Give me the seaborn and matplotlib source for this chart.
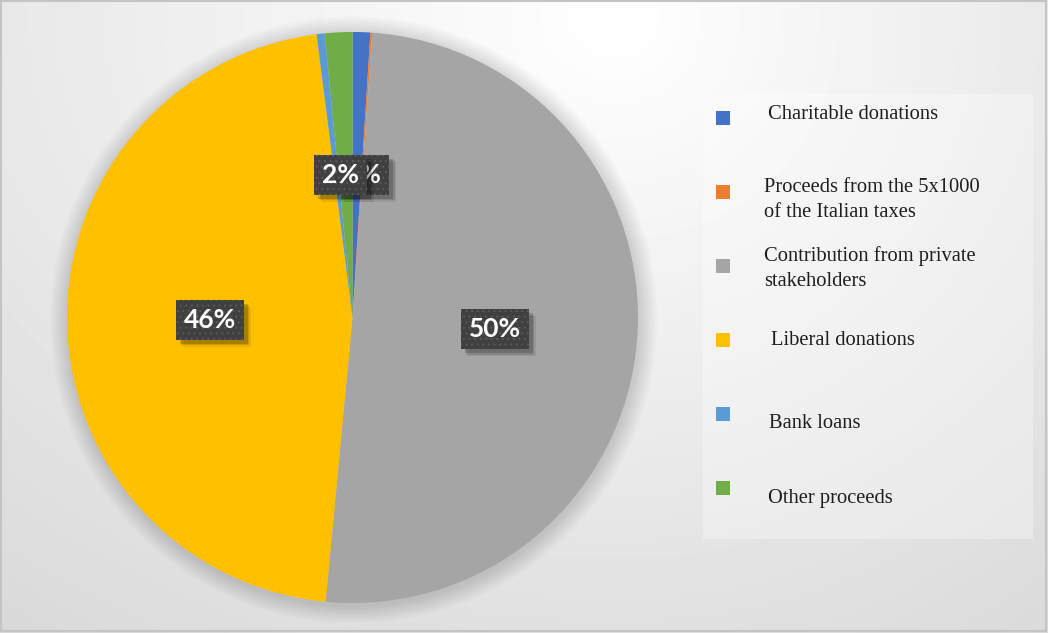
import numpy as np
import matplotlib
matplotlib.use("Agg")
import matplotlib.pyplot as plt
import matplotlib.patheffects as pe
import seaborn as sns
from matplotlib import transforms
from matplotlib.patches import Rectangle, Circle

# ---------------- data ----------------
categories = [
    "Charitable donations",
    "Proceeds from the 5x1000\nof the Italian taxes",
    "Contribution from private\nstakeholders",
    "Liberal donations",
    "Bank loans",
    "Other proceeds",
]
shares = [1.0, 0.1, 50.4, 46.49, 0.45, 1.56]
colors = ["#4472C4", "#ED7D31", "#A5A5A5", "#FFC000", "#5B9BD5", "#70AD47"]
show_label = [True, False, True, True, False, True]

# ---------------- layout ----------------
W, H = 1048, 633
CX, CY, R = 352.5, 317.5, 285.5
legend_box = (703, 94, 330, 445)
marker_x, marker_y0, marker_step, marker_size = 716, 117.5, 74, 14
text_x = [768, 764, 764, 771, 769, 768]
# baseline of the LAST line of each legend text
text_baseline = [119, 217, 286, 345, 428, 503]
# small label nudges (pixels), as in the original
label_nudge = {0: (6, 0), 5: (-5, 0)}

sns.set_theme(style="white")
plt.rcParams["hatch.color"] = "#5e5e5e"
plt.rcParams["hatch.linewidth"] = 0.6
palette = sns.color_palette(colors)

fig = plt.figure(figsize=(W / 100, H / 100), dpi=100)

# background gradient (pixel coordinates)
bg = fig.add_axes([0, 0, 1, 1])
bg.set_axis_off()
yy, xx = np.mgrid[0:H, 0:W]
dx = np.where(xx > 620, (xx - 620) * 0.05, (620 - xx) * 0.037)
dy = np.clip(yy - 20, 0, None) * 0.05
dark = np.sqrt(dx ** 2 + dy ** 2)
img = (255 - dark) / 255.0
bg.imshow(img, cmap="gray", vmin=0, vmax=1, extent=[0, W, H, 0], aspect="auto",
          interpolation="bilinear")
bg.set_xlim(0, W)
bg.set_ylim(H, 0)
bg.add_patch(Rectangle((1, 1), W - 3, H - 3, fill=False, ec="#c4c4c4", lw=1.5))

# legend
lx, ly, lw_, lh = legend_box
bg.add_patch(Rectangle((lx, ly), lw_, lh, fc="white", alpha=0.3, ec="none"))
for i, (lab, col) in enumerate(zip(categories, palette)):
    cy = marker_y0 + i * marker_step
    bg.add_patch(Rectangle((marker_x, cy - marker_size / 2), marker_size, marker_size,
                           fc=col, ec="none"))
    bg.text(text_x[i], text_baseline[i], lab, ha="left", va="baseline",
            fontsize=14.8, family=["Liberation Serif", "DejaVu Serif"],
            color="#1e1e1e", linespacing=1.45)

# pie
ax = fig.add_axes([(CX - R) / W, (H - CY - R) / H, 2 * R / W, 2 * R / H])
ax.set_axis_off()
for k in range(1, 10):
    ax.add_patch(Circle((0.004, -0.008), 1.0 + 0.007 * k, color="black",
                        alpha=0.016, lw=0, zorder=0.5, clip_on=False))
wedges, _ = ax.pie(shares, colors=palette, startangle=90, counterclock=False,
                   radius=1, wedgeprops=dict(linewidth=0))
ax.set_xlim(-1, 1)
ax.set_ylim(-1, 1)

font_lab = dict(fontsize=19, fontweight="bold", family=["Lato", "DejaVu Sans"])
box_style = "square,pad=0.3"
px2pt = 0.72
shadow = [pe.SimplePatchShadow(offset=(o * px2pt, -o * px2pt), shadow_rgbFace="black",
                               alpha=a, hatch=None)
          for o, a in [(7, 0.08), (5.5, 0.12), (4, 0.18)]] + [pe.Normal()]
for i, w in enumerate(wedges):
    if not show_label[i]:
        continue
    th = np.deg2rad((w.theta1 + w.theta2) / 2)
    x, y = 0.5 * np.cos(th), 0.5 * np.sin(th)
    nx, ny = label_nudge.get(i, (0, 0))
    txt = f"{round(shares[i])}%"
    tr = transforms.offset_copy(ax.transData, fig=fig, x=nx, y=-ny, units="dots")
    t = ax.text(x, y, txt, transform=tr, ha="center", va="center", color="white",
                zorder=5 + i, **font_lab,
                bbox=dict(boxstyle=box_style, fc="#404040", ec="#5e5e5e", lw=0,
                          hatch="..."))
    t.get_bbox_patch().set_path_effects(shadow)

fig.savefig("out.png", dpi=100)
